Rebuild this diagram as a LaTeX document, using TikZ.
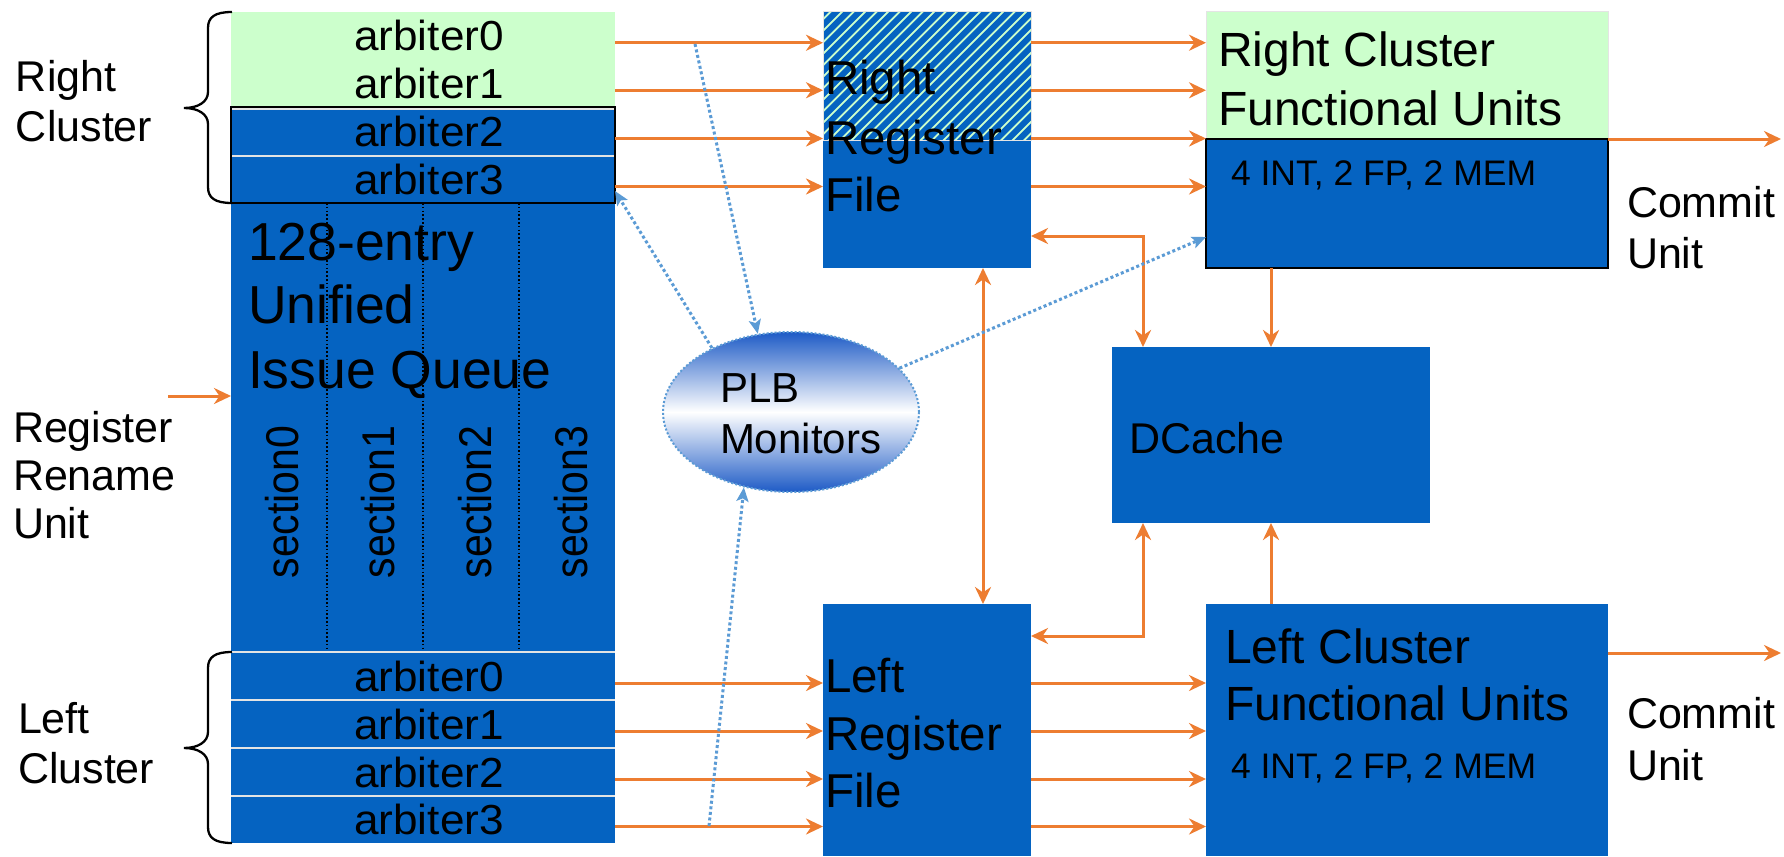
\documentclass[tikz,border=0pt]{standalone}
\usepackage{fontspec}
\setmainfont{Liberation Sans}
\newfontfamily\arbfont{Liberation Sans}[FakeStretch=1.05]
\usetikzlibrary{arrows.meta,shapes.geometric}

\definecolor{qblue}{HTML}{0563C1}
\definecolor{lgreen}{HTML}{CCFFCC}
\definecolor{orng}{HTML}{ED7D31}
\definecolor{dblue}{HTML}{5B9BD5}
\definecolor{sepgray}{HTML}{E4E4E4}
\definecolor{plbblue}{HTML}{1E5BC6}

\newcommand{\setfs}[1]{\fontsize{#1}{#1}\selectfont}

\begin{document}
\begin{tikzpicture}[x=1pt, y=-1pt,
  blk/.style={fill=qblue, draw=none, inner sep=0pt, outer sep=0pt, anchor=north west},
  lbl/.style={inner sep=0pt, outer sep=0pt, anchor=base west, text=black},
  arb/.style={inner sep=0pt, outer sep=0pt, anchor=north west, minimum width=384pt, font=\arbfont\setfs{42}},
  sect/.style={inner sep=0pt, outer sep=0pt, rotate=90, font=\setfs{41}},
  sepline/.style={draw=sepgray, line width=2.5pt},
  divline/.style={draw=black, line width=1.6pt, dash pattern=on 1.6pt off 2.2pt},
  tip/.tip={Stealth[length=17pt,width=16pt,inset=5.5pt]},
  flow/.style={draw=orng, line width=3pt, -tip},
  flowtwo/.style={draw=orng, line width=3pt, tip-tip},
  mon/.style={draw=dblue, line width=3pt, dash pattern=on 3pt off 2.6pt, -{Stealth[length=14pt,width=12pt,inset=3pt]}},
  bracepath/.style={draw=black, line width=2.3pt},
]
\useasboundingbox (0,0) rectangle (1784,856);
\fill[white] (0,0) rectangle (1784,856);

% ---------- unified issue queue with its arbiters ----------
\node[arb, fill=lgreen, minimum height=47.5pt] (ra0) at (231,12) {\hspace*{12pt}arbiter0};
\node[arb, fill=lgreen, minimum height=47.5pt] (ra1) at (231,59.5) {\hspace*{12pt}arbiter1};
\node[arb, fill=qblue, minimum height=49pt] (ra2) at (231,107) {\hspace*{12pt}arbiter2};
\node[arb, fill=qblue, minimum height=47pt] (ra3) at (231,156) {\hspace*{12pt}arbiter3};
\node[blk, minimum width=384pt, minimum height=449pt] (iq) at (231,203) {};
\node[arb, fill=qblue, minimum height=48pt] (la0) at (231,652) {\hspace*{12pt}arbiter0};
\node[arb, fill=qblue, minimum height=48pt] (la1) at (231,700) {\hspace*{12pt}arbiter1};
\node[arb, fill=qblue, minimum height=48pt] (la2) at (231,748) {\hspace*{12pt}arbiter2};
\node[arb, fill=qblue, minimum height=47pt] (la3) at (231,796) {\hspace*{12pt}arbiter3};

\draw[sepline] ([yshift=-1.5pt]ra2.north west) -- ([yshift=-1.5pt]ra2.north east);
\draw[sepline] (ra3.north west) -- (ra3.north east);
\draw[black, line width=1.6pt] (ra2.north west) rectangle (ra3.south east);
\foreach \n in {la0,la1,la2,la3}
  \draw[sepline] (\n.north west) -- (\n.north east);

\foreach \x in {96,192,288}
  \draw[divline] ([xshift=\x pt]iq.north west) -- ([xshift=\x pt, yshift=4pt]iq.south west);

\node[lbl, font=\setfs{53.5}] (iqt1) at (248,260) {128-entry};
\node[lbl, font=\setfs{53.5}] (iqt2) at (248,323) {Unified};
\node[lbl, font=\setfs{53.5}] (iqt3) at (248,388) {Issue Queue};

\node[sect] (s0) at (282,502) {\scalebox{1}[1.12]{section0}};
\node[sect] (s1) at (378,502) {\scalebox{1}[1.12]{section1}};
\node[sect] (s2) at (475,502) {\scalebox{1}[1.12]{section2}};
\node[sect] (s3) at (571,502) {\scalebox{1}[1.12]{section3}};

% ---------- cluster braces and side labels ----------
\draw[bracepath] (232,12) .. controls (215,12) and (208,17) .. (208,28) -- (208,92)
  .. controls (208,102) and (198,108) .. (184,108)
  .. controls (198,108) and (208,114) .. (208,124) -- (208,187)
  .. controls (208,198) and (215,203) .. (232,203);
\draw[bracepath] (232,652) .. controls (215,652) and (208,657) .. (208,668) -- (208,732)
  .. controls (208,742) and (198,748) .. (184,748)
  .. controls (198,748) and (208,754) .. (208,764) -- (208,827)
  .. controls (208,838) and (215,843) .. (232,843);

\node[lbl, font=\setfs{43}] (rcl1) at (16,92) {Right};
\node[lbl, font=\setfs{43}] (rcl2) at (16,142) {Cluster};
\node[lbl, font=\setfs{43}] (rru1) at (13,442) {Register};
\node[lbl, font=\setfs{43}] (rru2) at (13,490) {Rename};
\node[lbl, font=\setfs{43}] (rru3) at (13,538) {Unit};
\node[lbl, font=\setfs{43}] (lcl1) at (18,733) {Left};
\node[lbl, font=\setfs{43}] (lcl2) at (18,783) {Cluster};

% ---------- register files ----------
\node[blk, minimum width=208pt, minimum height=256pt] (rrf) at (823,12) {};
\begin{scope}
  \clip (rrf.north west) rectangle ([yshift=128pt]rrf.south east);
  \fill[lgreen] (rrf.north west) rectangle ([yshift=128pt]rrf.south east);
  \foreach \i in {0,...,32}
    \draw[qblue, line width=6pt] (675+\i*11.5,150) -- ++(150,-150);
\end{scope}
\draw[sepgray, line width=1pt] (rrf.north west) rectangle ([yshift=128pt]rrf.south east);
\node[lbl, font=\setfs{47.5}] (rrft1) at (825,95) {Right};
\node[lbl, font=\setfs{47.5}] (rrft2) at (825,154) {Register};
\node[lbl, font=\setfs{47.5}] (rrft3) at (825,211) {File};

\node[blk, minimum width=208pt, minimum height=252pt] (lrf) at (823,604) {};
\node[lbl, font=\setfs{47.5}] (lrft1) at (825,692) {Left};
\node[lbl, font=\setfs{47.5}] (lrft2) at (825,750) {Register};
\node[lbl, font=\setfs{47.5}] (lrft3) at (825,807) {File};

% ---------- functional units ----------
\node[blk, fill=lgreen, draw=sepgray, line width=1pt, minimum width=402pt, minimum height=256pt] (rcfu) at (1206,12) {};
\node[blk, draw=black, line width=1.6pt, minimum width=402pt, minimum height=129pt] (rcfub) at (1206,139) {};
\node[lbl, font=\setfs{48}] (rcft1) at (1218,67) {Right Cluster};
\node[lbl, font=\setfs{48}] (rcft2) at (1218,125) {Functional Units};
\node[lbl, font=\setfs{35.5}] (rcft3) at (1231,185) {4 INT, 2 FP, 2 MEM};

\node[blk, minimum width=402pt, minimum height=252pt] (lcfu) at (1206,604) {};
\node[lbl, font=\setfs{48}] (lcft1) at (1225,663) {Left Cluster};
\node[lbl, font=\setfs{48}] (lcft2) at (1225,720) {Functional Units};
\node[lbl, font=\setfs{35.5}] (lcft3) at (1231,778) {4 INT, 2 FP, 2 MEM};

\node[lbl, font=\setfs{43}] (cm1) at (1627,217) {Commit};
\node[lbl, font=\setfs{43}] (cm2) at (1627,268) {Unit};
\node[lbl, font=\setfs{43}] (cm3) at (1627,728) {Commit};
\node[lbl, font=\setfs{43}] (cm4) at (1627,780) {Unit};

% ---------- data cache ----------
\node[blk, minimum width=318pt, minimum height=176pt] (dc) at (1112,347) {};
\node[lbl, font=\setfs{43}] (dct) at (1129,453) {DCache};

% ---------- PLB monitors ----------
\node[ellipse, minimum width=256pt, minimum height=160pt, inner sep=0pt,
  top color=plbblue, bottom color=plbblue, middle color=white,
  draw=dblue, line width=2pt, dash pattern=on 2pt off 2pt] (plb) at (791,412) {};
\node[lbl, font=\setfs{42}] (plbt1) at (720,402) {PLB};
\node[lbl, font=\setfs{42}] (plbt2) at (720,453) {Monitors};

% ---------- data paths ----------
\coordinate (rin) at (168,396);
\draw[flow] (rin) -- (rin -| iq.west);

\foreach \n in {ra0,ra1,ra2,ra3,la0,la1,la2,la3}
  \draw[flow] ([yshift=-7pt]\n.east) -- ([yshift=-7pt]\n.east -| rrf.west);
\foreach \n in {ra0,ra1,ra2,ra3}
  \draw[flow] ([yshift=-7pt]\n.east -| rrf.east) -- ([yshift=-7pt]\n.east -| rcfu.west);
\foreach \n in {la0,la1,la2,la3}
  \draw[flow] ([yshift=-7pt]\n.east -| lrf.east) -- ([yshift=-7pt]\n.east -| lcfu.west);

\coordinate (rout) at (1781,139);
\coordinate (lout) at (1781,653);
\draw[flow] (rcfub.north east) -- (rout);
\draw[flow] (lcfu.east |- lout) -- (lout);

\draw[flowtwo] ([yshift=32pt]rrf.south east) -| ([xshift=31pt]dc.north west);
\draw[flowtwo] ([yshift=-32pt]lrf.north east) -| ([xshift=31pt]dc.south west);
\draw[flow] ([xshift=65pt]rcfub.south west) -- ([xshift=65pt]rcfub.south west |- dc.north);
\draw[flow] ([xshift=65pt]lcfu.north west) -- ([xshift=65pt]lcfu.north west |- dc.south);
\draw[flowtwo] ([xshift=-48pt]rrf.south east) -- ([xshift=-48pt]rrf.south east |- lrf.north);

% ---------- monitor links ----------
\coordinate (tapa) at (695,44);
\coordinate (tapb) at (709,826);
\draw[mon] (tapa) -- (plb.113);
\draw[mon] (plb.141) -- ([yshift=12pt]ra3.south east);
\draw[mon] (plb.22) -- ([yshift=31pt]rcfub.south west);
\draw[mon] (tapb) -- (plb.238);
\end{tikzpicture}
\end{document}
